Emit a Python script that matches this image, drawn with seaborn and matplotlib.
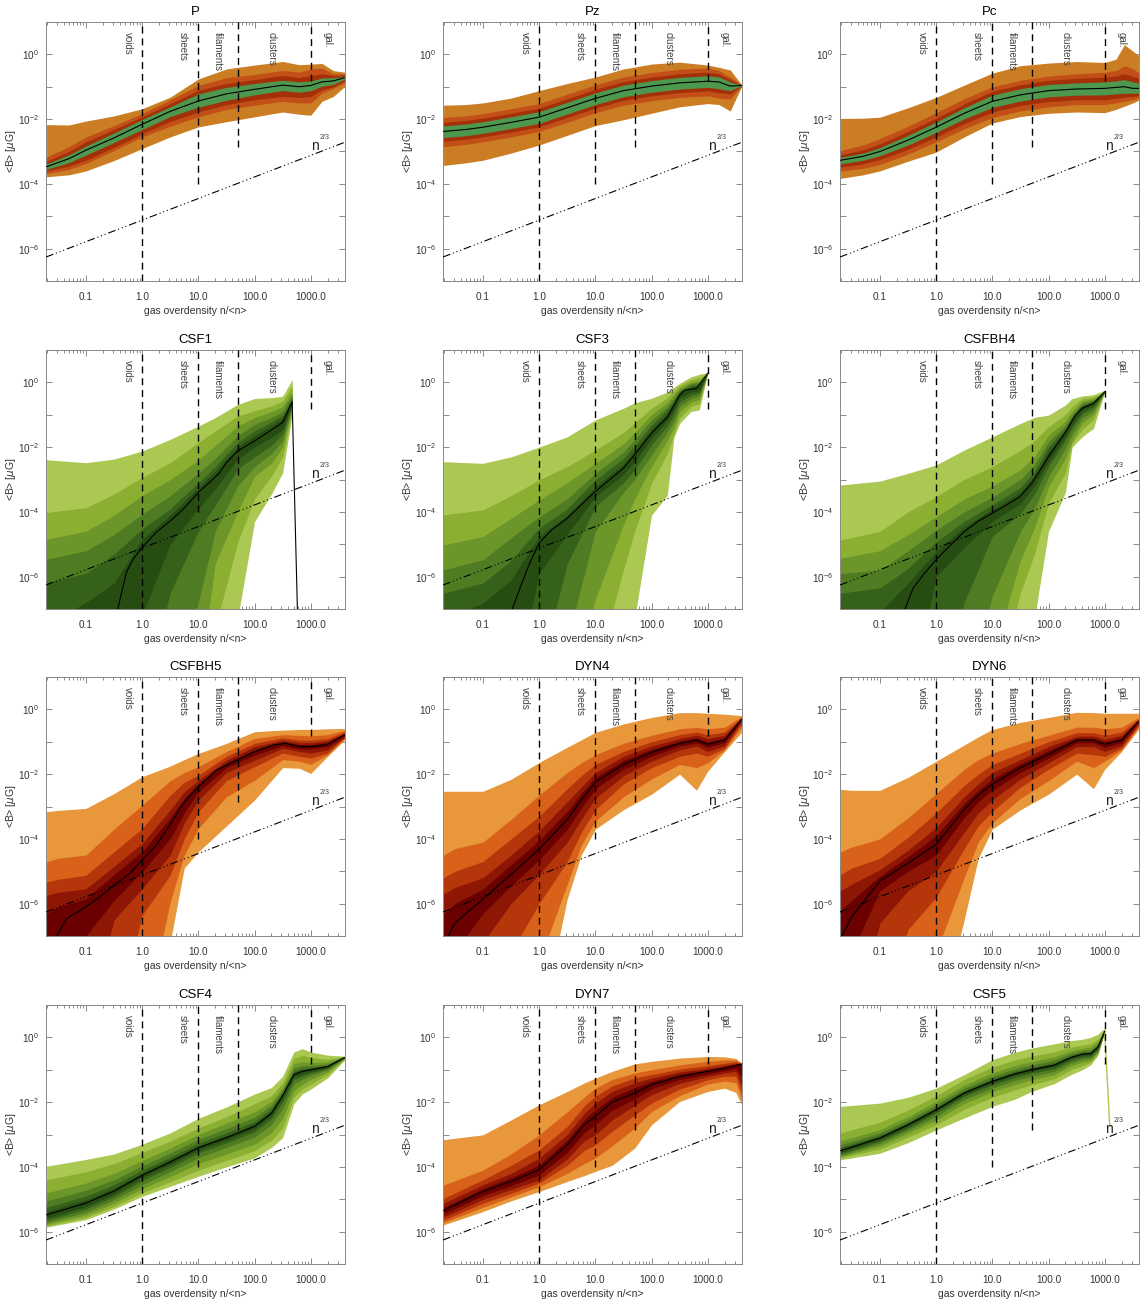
import numpy as np
import matplotlib
matplotlib.use("Agg")
import matplotlib.pyplot as plt
import seaborn as sns
from matplotlib.ticker import FixedLocator, NullLocator, LogLocator, NullFormatter

sns.set_theme(style="ticks")
plt.rcParams["font.family"] = ["Liberation Sans", "DejaVu Sans"]
plt.rcParams["mathtext.fontset"] = "custom"
plt.rcParams["mathtext.rm"] = "Liberation Sans"

# ---------------------------------------------------------------
# data (all values are log10 of overdensity / log10 of <B> in muG)
# bands listed from outermost to innermost
# ---------------------------------------------------------------
P_X = [-1.7, -1.3, -1.0, -0.5, 0.0, 0.5, 1.0, 1.5, 2.0, 2.5, 2.8, 3.0, 3.2, 3.4, 3.6]
P_MED = [-3.47, -3.22, -2.96, -2.58, -2.16, -1.76, -1.44, -1.22, -1.08, -0.95, -1.0, -0.96, -0.85, -0.82, -0.72]
P_HI = [
    [-2.17, -2.18, -2.06, -1.9, -1.68, -1.32, -0.76, -0.45, -0.33, -0.22, -0.32, -0.3, -0.28, -0.5, -0.55],
    [-3.17, -2.85, -2.55, -2.2, -1.83, -1.4, -0.96, -0.72, -0.62, -0.5, -0.55, -0.45, -0.42, -0.6, -0.6],
    [-3.3, -3.0, -2.7, -2.32, -1.93, -1.52, -1.11, -0.9, -0.78, -0.65, -0.72, -0.65, -0.6, -0.66, -0.64],
    [-3.38, -3.1, -2.83, -2.43, -2.01, -1.62, -1.22, -1.02, -0.9, -0.8, -0.85, -0.82, -0.73, -0.72, -0.68],
]
P_LO = [
    [-3.78, -3.72, -3.6, -3.28, -2.91, -2.55, -2.24, -2.08, -1.93, -1.78, -1.85, -1.88, -1.45, -1.3, -1.0],
    [-3.68, -3.55, -3.37, -2.97, -2.55, -2.22, -1.93, -1.7, -1.57, -1.45, -1.5, -1.5, -1.2, -1.05, -0.88],
    [-3.6, -3.45, -3.27, -2.87, -2.45, -2.07, -1.78, -1.55, -1.4, -1.3, -1.33, -1.3, -1.1, -1.0, -0.82],
    [-3.55, -3.34, -3.11, -2.72, -2.32, -1.92, -1.63, -1.42, -1.25, -1.12, -1.17, -1.12, -0.98, -0.93, -0.77],
]

PZ_X = [-1.7, -1.3, -1.0, -0.5, 0.0, 0.5, 1.0, 1.5, 2.0, 2.5, 3.0, 3.2, 3.4, 3.6]
PZ_MED = [-2.38, -2.32, -2.25, -2.1, -1.94, -1.65, -1.36, -1.12, -0.98, -0.88, -0.83, -0.85, -0.98, -0.96]
PZ_HI = [
    [-1.57, -1.55, -1.5, -1.35, -1.12, -0.9, -0.7, -0.45, -0.3, -0.24, -0.33, -0.4, -0.48, -0.93],
    [-1.95, -1.9, -1.83, -1.68, -1.52, -1.23, -0.94, -0.7, -0.56, -0.46, -0.42, -0.5, -0.7, -0.94],
    [-2.1, -2.04, -1.97, -1.82, -1.66, -1.37, -1.08, -0.84, -0.7, -0.6, -0.55, -0.6, -0.78, -0.945],
    [-2.21, -2.15, -2.08, -1.93, -1.77, -1.48, -1.19, -0.95, -0.81, -0.71, -0.66, -0.7, -0.85, -0.95],
]
PZ_LO = [
    [-3.43, -3.35, -3.27, -3.05, -2.8, -2.5, -2.2, -2.02, -1.82, -1.62, -1.52, -1.55, -1.75, -1.0],
    [-2.85, -2.78, -2.7, -2.55, -2.38, -2.1, -1.8, -1.57, -1.43, -1.33, -1.28, -1.35, -1.38, -0.99],
    [-2.68, -2.62, -2.55, -2.4, -2.24, -1.95, -1.66, -1.42, -1.28, -1.18, -1.13, -1.18, -1.22, -0.98],
    [-2.57, -2.51, -2.44, -2.29, -2.13, -1.84, -1.55, -1.31, -1.17, -1.07, -1.02, -1.06, -1.12, -0.97],
]

PC_X = [-1.7, -1.3, -1.0, -0.5, 0.0, 0.5, 1.0, 1.5, 2.0, 2.5, 3.0, 3.2, 3.35, 3.5, 3.6]
PC_MED = [-3.27, -3.15, -3.0, -2.65, -2.25, -1.82, -1.45, -1.25, -1.12, -1.07, -1.05, -1.02, -1.0, -1.05, -1.05]
PC_HI = [
    [-1.98, -1.97, -1.94, -1.65, -1.33, -0.95, -0.58, -0.35, -0.27, -0.22, -0.25, -0.15, 0.3, 0.1, -0.03],
    [-2.97, -2.8, -2.6, -2.22, -1.8, -1.37, -1.0, -0.8, -0.67, -0.6, -0.55, -0.5, -0.35, -0.45, -0.55],
    [-3.1, -2.95, -2.77, -2.38, -1.97, -1.53, -1.14, -0.94, -0.8, -0.74, -0.7, -0.67, -0.6, -0.68, -0.72],
    [-3.18, -3.05, -2.88, -2.5, -2.09, -1.65, -1.26, -1.06, -0.93, -0.88, -0.85, -0.82, -0.78, -0.85, -0.88],
]
PC_LO = [
    [-3.83, -3.72, -3.6, -3.3, -3.02, -2.55, -2.12, -1.92, -1.82, -1.78, -1.8, -1.7, -1.6, -1.5, -1.42],
    [-3.6, -3.52, -3.4, -3.08, -2.7, -2.3, -1.95, -1.75, -1.62, -1.55, -1.55, -1.5, -1.45, -1.4, -1.35],
    [-3.48, -3.38, -3.25, -2.93, -2.55, -2.14, -1.78, -1.58, -1.46, -1.4, -1.4, -1.36, -1.32, -1.3, -1.28],
    [-3.38, -3.27, -3.13, -2.8, -2.41, -1.99, -1.64, -1.44, -1.31, -1.26, -1.25, -1.22, -1.2, -1.2, -1.2],
]

CSF1_X = [-1.7, -1.0, -0.5, 0.0, 0.5, 1.0, 1.3, 1.7, 2.0, 2.3, 2.5, 2.67]
CSF1_MED_X = [-0.46, -0.28, -0.16, 0.0, 0.25, 0.5, 0.73, 1.0, 1.2, 1.38, 1.5, 1.7, 2.0, 2.3, 2.5, 2.67, 2.77]
CSF1_MED = [-7.2, -5.87, -5.46, -5.1, -4.63, -4.28, -3.92, -3.4, -3.09, -2.79, -2.48, -2.12, -1.81, -1.47, -1.24, -0.6, -7.5]
CSF1_HI = [
    [-2.39, -2.48, -2.37, -2.12, -1.76, -1.35, -1.09, -0.68, -0.5, -0.47, -0.43, 0.09],
    [-4.02, -3.87, -3.45, -2.94, -2.48, -1.86, -1.5, -1.04, -0.88, -0.73, -0.58, -0.11],
    [-4.84, -4.6, -4.1, -3.5, -3.0, -2.4, -1.95, -1.35, -1.09, -0.9, -0.75, -0.3],
    [-5.46, -5.2, -4.7, -4.07, -3.5, -2.8, -2.35, -1.65, -1.3, -1.08, -0.9, -0.4],
    [-6.18, -5.9, -5.3, -4.53, -3.9, -3.1, -2.6, -1.85, -1.5, -1.22, -1.02, -0.48],
    [-7.5, -6.8, -6.2, -4.84, -4.1, -3.25, -2.75, -1.98, -1.65, -1.33, -1.12, -0.54],
]
CSF1_LO = [
    [-10, -10, -10, -10, -10, -10, -10, -7.3, -4.3, -3.45, -2.8, -1.0],
    [-10, -10, -10, -10, -10, -10, -7.6, -4.94, -3.6, -2.9, -2.3, -0.9],
    [-10, -10, -10, -10, -10, -9.5, -5.6, -4.0, -2.9, -2.5, -2.0, -0.8],
    [-10, -10, -10, -10, -10, -6.8, -4.6, -3.2, -2.6, -2.2, -1.8, -0.75],
    [-10, -10, -10, -10, -6.5, -4.6, -3.8, -2.68, -2.3, -1.95, -1.6, -0.7],
    [-10, -10, -10, -7.2, -5.0, -3.9, -3.3, -2.37, -2.0, -1.7, -1.45, -0.65],
]

CSF3_X = [-1.7, -1.0, -0.5, 0.0, 0.5, 1.0, 1.5, 1.7, 2.0, 2.28, 2.4, 2.5, 2.7, 2.85, 3.0]
CSF3_MED_X = [-0.52, -0.33, -0.17, 0.0, 0.22, 0.5, 0.78, 1.0, 1.25, 1.5, 1.7, 2.0, 2.29, 2.5, 2.59, 2.8, 3.0]
CSF3_MED = [-7.2, -6.31, -5.59, -4.97, -4.56, -4.2, -3.73, -3.37, -3.01, -2.65, -2.24, -1.57, -1.06, -0.39, -0.24, -0.19, 0.28]
CSF3_HI = [
    [-2.45, -2.5, -2.3, -2.0, -1.68, -1.16, -0.8, -0.63, -0.49, -0.3, -0.15, -0.03, 0.17, 0.25, 0.3],
    [-4.09, -3.94, -3.5, -3.01, -2.6, -2.09, -1.55, -1.25, -0.8, -0.47, -0.26, -0.1, 0.08, 0.15, 0.28],
    [-5.02, -4.76, -4.2, -3.63, -3.1, -2.5, -1.9, -1.55, -1.0, -0.62, -0.38, -0.18, 0.0, 0.05, 0.28],
    [-5.79, -5.48, -4.8, -4.15, -3.6, -2.81, -2.15, -1.77, -1.16, -0.75, -0.48, -0.23, -0.05, 0.0, 0.28],
    [-6.51, -6.2, -5.5, -4.5, -3.9, -3.01, -2.35, -1.95, -1.32, -0.85, -0.55, -0.28, -0.1, -0.05, 0.28],
    [-7.3, -6.82, -6.1, -4.76, -4.1, -3.22, -2.52, -2.1, -1.45, -0.95, -0.62, -0.33, -0.15, -0.1, 0.28],
]
CSF3_LO = [
    [-10, -10, -10, -10, -10, -10, -10, -7.3, -4.1, -3.5, -1.7, -1.27, -0.9, -0.85, 0.28],
    [-10, -10, -10, -10, -10, -9.0, -5.8, -4.6, -3.12, -2.2, -1.6, -1.1, -0.75, -0.65, 0.28],
    [-10, -10, -10, -10, -10, -6.7, -4.4, -3.6, -2.6, -1.8, -1.4, -0.9, -0.62, -0.52, 0.28],
    [-10, -10, -10, -10, -8.0, -4.6, -3.4, -3.0, -2.24, -1.55, -1.2, -0.75, -0.5, -0.42, 0.28],
    [-10, -10, -10, -9.0, -5.6, -3.84, -3.1, -2.7, -1.93, -1.35, -1.0, -0.6, -0.4, -0.32, 0.28],
    [-10, -10, -10, -5.9, -4.7, -3.53, -2.85, -2.45, -1.73, -1.18, -0.85, -0.49, -0.3, -0.25, 0.28],
]

CSFBH4_X = [-1.7, -1.0, -0.5, 0.0, 0.5, 1.0, 1.5, 1.75, 2.0, 2.3, 2.42, 2.6, 2.8, 3.0]
CSFBH4_MED_X = [-0.6, -0.41, -0.21, 0.0, 0.26, 0.5, 0.74, 1.0, 1.25, 1.49, 1.7, 1.85, 2.0, 2.29, 2.48, 2.6, 2.8, 3.0]
CSFBH4_MED = [-7.2, -6.36, -5.9, -5.48, -5.02, -4.61, -4.3, -4.04, -3.79, -3.53, -3.12, -2.71, -2.29, -1.57, -1.01, -0.8, -0.65, -0.29]
CSFBH4_HI = [
    [-3.17, -3.05, -2.81, -2.55, -2.09, -1.68, -1.27, -1.08, -1.01, -0.7, -0.5, -0.42, -0.38, -0.24],
    [-4.87, -4.6, -4.0, -3.53, -3.0, -2.6, -2.1, -1.8, -1.37, -1.0, -0.75, -0.5, -0.45, -0.29],
    [-5.43, -5.2, -4.7, -4.15, -3.6, -3.2, -2.7, -2.3, -1.63, -1.2, -0.9, -0.58, -0.5, -0.29],
    [-5.9, -5.8, -5.2, -4.56, -4.0, -3.55, -3.0, -2.55, -1.83, -1.33, -1.0, -0.65, -0.55, -0.29],
    [-6.51, -6.35, -5.75, -4.92, -4.3, -3.78, -3.25, -2.75, -1.99, -1.42, -1.07, -0.7, -0.58, -0.29],
    [-7.5, -7.1, -6.2, -5.22, -4.47, -3.92, -3.4, -2.88, -2.14, -1.5, -1.13, -0.75, -0.62, -0.29],
]
CSFBH4_LO = [
    [-10, -10, -10, -10, -10, -10, -10, -7.3, -4.6, -3.4, -2.0, -1.68, -1.42, -0.29],
    [-10, -10, -10, -10, -10, -10, -6.5, -5.3, -3.73, -2.8, -1.9, -1.45, -1.15, -0.29],
    [-10, -10, -10, -10, -10, -8.5, -5.5, -4.5, -3.22, -2.35, -1.8, -1.25, -1.0, -0.29],
    [-10, -10, -10, -10, -10, -6.6, -4.6, -3.9, -2.91, -2.05, -1.6, -1.1, -0.88, -0.29],
    [-10, -10, -10, -10, -6.8, -4.75, -4.05, -3.45, -2.6, -1.8, -1.4, -0.97, -0.78, -0.29],
    [-10, -10, -10, -6.0, -5.1, -4.3, -3.75, -3.2, -2.45, -1.68, -1.3, -0.88, -0.7, -0.29],
]

CSFBH5_X = [-1.7, -1.5, -1.0, -0.5, 0.0, 0.5, 0.75, 1.0, 1.5, 2.0, 2.5, 2.8, 3.0, 3.3, 3.6]
CSFBH5_MED_X = [-1.52, -1.34, -1.0, -0.75, -0.46, -0.22, 0.0, 0.25, 0.49, 0.73, 1.0, 1.32, 1.69, 2.0, 2.33, 2.56, 2.8, 3.0, 3.27, 3.6]
CSFBH5_MED = [-7.0, -6.46, -6.1, -5.79, -5.38, -5.07, -4.66, -4.2, -3.58, -2.91, -2.39, -1.88, -1.57, -1.31, -1.1, -1.05, -1.15, -1.15, -1.1, -0.79]
CSFBH5_HI = [
    [-3.16, -3.12, -3.06, -2.6, -2.08, -1.75, -1.55, -1.36, -1.05, -0.69, -0.64, -0.62, -0.62, -0.6, -0.59],
    [-4.71, -4.6, -4.5, -3.7, -2.96, -2.2, -1.95, -1.77, -1.3, -0.9, -0.78, -0.8, -0.82, -0.78, -0.65],
    [-5.33, -5.25, -5.12, -4.4, -3.68, -2.65, -2.25, -2.03, -1.45, -1.05, -0.88, -0.95, -0.95, -0.9, -0.7],
    [-5.74, -5.65, -5.54, -4.85, -4.14, -3.1, -2.55, -2.19, -1.57, -1.15, -0.95, -1.03, -1.03, -0.97, -0.74],
    [-6.3, -6.1, -5.85, -5.1, -4.4, -3.35, -2.75, -2.29, -1.64, -1.24, -1.0, -1.09, -1.09, -1.03, -0.77],
]
CSFBH5_LO = [
    [-10, -10, -10, -10, -10, -7.2, -4.9, -4.4, -3.6, -2.8, -1.8, -1.82, -1.98, -1.45, -0.95],
    [-10, -10, -10, -10, -10, -5.95, -4.5, -3.68, -2.7, -2.19, -1.55, -1.6, -1.7, -1.4, -0.9],
    [-10, -10, -10, -10, -6.36, -5.12, -4.0, -3.16, -2.2, -1.77, -1.35, -1.45, -1.5, -1.35, -0.88],
    [-10, -10, -10, -6.5, -5.54, -4.5, -3.5, -2.8, -1.95, -1.57, -1.2, -1.3, -1.35, -1.25, -0.86],
    [-10, -10, -7.0, -5.9, -5.02, -3.99, -3.2, -2.55, -1.8, -1.41, -1.12, -1.22, -1.22, -1.15, -0.82],
]

DYN4_X = [-1.7, -1.5, -1.0, -0.5, 0.0, 0.5, 0.75, 1.0, 1.5, 2.0, 2.5, 2.8, 3.0, 3.3, 3.6]
DYN4_MED = [-7.3, -6.6, -5.86, -5.1, -4.32, -3.4, -2.8, -2.25, -1.7, -1.33, -1.05, -0.95, -1.08, -0.95, -0.31]
DYN4_HI = [
    [-2.53, -2.53, -2.53, -2.16, -1.64, -1.17, -0.94, -0.71, -0.45, -0.25, -0.1, -0.1, -0.12, -0.15, -0.19],
    [-4.5, -4.3, -4.1, -3.4, -2.65, -1.95, -1.65, -1.4, -1.05, -0.8, -0.6, -0.55, -0.6, -0.55, -0.22],
    [-5.2, -5.0, -4.7, -4.0, -3.3, -2.45, -2.05, -1.7, -1.3, -1.0, -0.78, -0.7, -0.78, -0.7, -0.25],
    [-5.7, -5.5, -5.2, -4.5, -3.75, -2.85, -2.4, -1.95, -1.45, -1.13, -0.9, -0.8, -0.9, -0.8, -0.27],
    [-6.3, -6.0, -5.55, -4.8, -4.05, -3.15, -2.6, -2.1, -1.58, -1.23, -0.98, -0.88, -1.0, -0.88, -0.29],
]
DYN4_LO = [
    [-10, -10, -10, -10, -10, -5.86, -4.5, -3.7, -3.1, -2.62, -2.0, -2.5, -1.91, -1.3, -0.71],
    [-10, -10, -10, -10, -7.8, -5.4, -4.2, -3.45, -2.7, -2.15, -1.7, -1.8, -1.65, -1.25, -0.55],
    [-10, -10, -10, -7.5, -6.0, -4.7, -3.8, -3.1, -2.3, -1.8, -1.45, -1.35, -1.45, -1.2, -0.45],
    [-10, -10, -7.2, -6.0, -5.1, -4.1, -3.4, -2.75, -2.05, -1.6, -1.25, -1.13, -1.3, -1.12, -0.38],
    [-10, -7.5, -6.3, -5.45, -4.65, -3.7, -3.05, -2.45, -1.85, -1.45, -1.13, -1.03, -1.17, -1.03, -0.34],
]

DYN6_X = [-1.7, -1.5, -1.0, -0.5, 0.0, 0.5, 0.75, 1.0, 1.5, 2.0, 2.5, 2.8, 3.0, 3.3, 3.6]
DYN6_MED = [-7.1, -6.4, -5.3, -4.75, -4.17, -3.09, -2.65, -2.31, -1.8, -1.39, -0.95, -0.95, -1.08, -0.95, -0.37]
DYN6_HI = [
    [-2.47, -2.5, -2.5, -2.1, -1.6, -1.1, -0.85, -0.62, -0.4, -0.25, -0.09, -0.1, -0.12, -0.12, -0.12],
    [-4.4, -4.25, -4.0, -3.35, -2.6, -1.85, -1.55, -1.35, -1.05, -0.8, -0.55, -0.55, -0.6, -0.55, -0.25],
    [-5.1, -4.9, -4.6, -3.95, -3.2, -2.35, -2.0, -1.7, -1.35, -1.0, -0.72, -0.72, -0.8, -0.7, -0.3],
    [-5.6, -5.4, -4.95, -4.35, -3.65, -2.7, -2.3, -1.95, -1.55, -1.15, -0.83, -0.82, -0.92, -0.8, -0.33],
    [-6.2, -5.9, -5.15, -4.55, -3.9, -2.9, -2.5, -2.15, -1.68, -1.27, -0.89, -0.89, -1.0, -0.88, -0.35],
]
DYN6_LO = [
    [-10, -10, -10, -10, -10, -6.5, -4.6, -3.7, -3.1, -2.62, -2.0, -2.45, -1.85, -1.3, -0.62],
    [-10, -10, -10, -10, -7.5, -5.2, -4.1, -3.5, -2.75, -2.2, -1.6, -1.8, -1.6, -1.25, -0.55],
    [-10, -10, -10, -6.8, -5.8, -4.3, -3.6, -3.15, -2.4, -1.85, -1.35, -1.4, -1.45, -1.2, -0.5],
    [-10, -10, -6.6, -5.6, -5.0, -3.8, -3.2, -2.8, -2.15, -1.65, -1.15, -1.15, -1.3, -1.12, -0.45],
    [-10, -7.5, -5.6, -5.0, -4.5, -3.35, -2.85, -2.5, -1.95, -1.5, -1.03, -1.03, -1.17, -1.03, -0.4],
]

CSF4_X = [-1.7, -1.0, -0.5, 0.0, 0.5, 1.0, 1.5, 2.0, 2.3, 2.5, 2.7, 2.85, 3.0, 3.3, 3.6]
CSF4_MED = [-5.48, -5.12, -4.75, -4.26, -3.85, -3.41, -3.1, -2.75, -2.35, -1.8, -1.15, -1.05, -1.0, -0.9, -0.62]
CSF4_HI = [
    [-3.98, -3.77, -3.6, -3.3, -2.95, -2.5, -2.15, -1.75, -1.55, -1.2, -0.45, -0.35, -0.45, -0.55, -0.58],
    [-4.4, -4.15, -3.9, -3.55, -3.2, -2.8, -2.45, -2.05, -1.8, -1.4, -0.65, -0.55, -0.62, -0.68, -0.59],
    [-4.8, -4.5, -4.2, -3.8, -3.42, -3.0, -2.65, -2.3, -1.98, -1.55, -0.82, -0.75, -0.78, -0.76, -0.6],
    [-5.05, -4.72, -4.4, -3.97, -3.57, -3.15, -2.82, -2.47, -2.1, -1.63, -0.95, -0.88, -0.87, -0.82, -0.61],
    [-5.25, -4.9, -4.55, -4.1, -3.7, -3.27, -2.95, -2.6, -2.2, -1.7, -1.05, -0.96, -0.93, -0.86, -0.615],
    [-5.38, -5.02, -4.66, -4.19, -3.78, -3.35, -3.03, -2.68, -2.28, -1.76, -1.1, -1.0, -0.97, -0.88, -0.618],
]
CSF4_LO = [
    [-5.86, -5.63, -5.3, -4.91, -4.6, -4.29, -4.0, -3.72, -3.4, -3.1, -2.05, -1.75, -1.6, -1.25, -0.7],
    [-5.82, -5.56, -5.22, -4.8, -4.46, -4.1, -3.8, -3.5, -3.18, -2.8, -1.85, -1.6, -1.45, -1.15, -0.68],
    [-5.77, -5.48, -5.12, -4.67, -4.3, -3.9, -3.6, -3.3, -2.95, -2.5, -1.65, -1.45, -1.3, -1.07, -0.66],
    [-5.72, -5.4, -5.02, -4.55, -4.15, -3.72, -3.4, -3.08, -2.7, -2.2, -1.45, -1.3, -1.18, -1.0, -0.64],
    [-5.65, -5.3, -4.92, -4.42, -4.02, -3.57, -3.26, -2.92, -2.52, -2.0, -1.3, -1.2, -1.1, -0.96, -0.63],
    [-5.58, -5.22, -4.84, -4.33, -3.92, -3.48, -3.17, -2.82, -2.42, -1.88, -1.22, -1.12, -1.05, -0.93, -0.625],
]

DYN7_X = [-1.7, -1.0, -0.5, 0.0, 0.5, 0.8, 1.0, 1.3, 1.7, 2.0, 2.5, 3.0, 3.3, 3.5, 3.6]
DYN7_MED = [-5.35, -4.76, -4.45, -4.09, -3.32, -2.7, -2.44, -2.0, -1.72, -1.46, -1.21, -1.05, -0.95, -0.87, -0.82]
DYN7_HI = [
    [-3.16, -3.01, -2.55, -2.08, -1.67, -1.41, -1.26, -1.05, -0.82, -0.74, -0.64, -0.59, -0.6, -0.65, -0.79],
    [-4.56, -4.1, -3.6, -3.01, -2.3, -1.85, -1.57, -1.3, -1.1, -1.0, -0.85, -0.74, -0.7, -0.7, -0.8],
    [-4.97, -4.4, -3.95, -3.47, -2.75, -2.12, -1.82, -1.5, -1.25, -1.15, -0.98, -0.87, -0.8, -0.75, -0.81],
    [-5.12, -4.55, -4.2, -3.73, -3.0, -2.35, -2.03, -1.67, -1.4, -1.26, -1.07, -0.95, -0.86, -0.8, -0.81],
    [-5.25, -4.67, -4.33, -3.94, -3.17, -2.55, -2.24, -1.85, -1.55, -1.36, -1.14, -1.0, -0.9, -0.83, -0.81],
]
DYN7_LO = [
    [-5.79, -5.38, -5.05, -4.76, -4.45, -4.27, -4.14, -3.95, -3.42, -2.7, -1.98, -1.67, -1.57, -1.7, -2.08],
    [-5.72, -5.25, -4.93, -4.61, -4.2, -3.9, -3.73, -3.35, -2.8, -2.29, -1.8, -1.44, -1.35, -1.4, -1.9],
    [-5.65, -5.12, -4.82, -4.5, -3.95, -3.5, -3.32, -2.9, -2.4, -2.03, -1.6, -1.31, -1.2, -1.2, -1.7],
    [-5.55, -5.0, -4.7, -4.4, -3.75, -3.2, -3.01, -2.55, -2.1, -1.77, -1.42, -1.21, -1.1, -1.05, -1.5],
    [-5.45, -4.88, -4.58, -4.25, -3.55, -2.95, -2.7, -2.25, -1.9, -1.59, -1.3, -1.13, -1.03, -0.95, -1.2],
]

CSF5_X = [-1.7, -1.0, -0.5, 0.0, 0.5, 1.0, 1.4, 1.7, 2.1, 2.4, 2.6, 2.75, 2.88, 3.0]
CSF5_MED = [-3.5, -3.11, -2.7, -2.24, -1.72, -1.36, -1.13, -1.0, -0.86, -0.62, -0.52, -0.5, -0.3, 0.19]
CSF5_HI = [
    [-2.13, -2.03, -1.85, -1.57, -1.15, -0.69, -0.46, -0.33, -0.2, -0.1, -0.06, 0.0, 0.1, 0.29],
    [-2.95, -2.62, -2.25, -1.8, -1.3, -0.92, -0.7, -0.58, -0.45, -0.3, -0.24, -0.2, -0.05, 0.25],
    [-3.2, -2.85, -2.45, -1.98, -1.47, -1.1, -0.87, -0.75, -0.6, -0.42, -0.34, -0.3, -0.14, 0.22],
    [-3.32, -2.95, -2.55, -2.08, -1.57, -1.2, -0.97, -0.85, -0.7, -0.5, -0.41, -0.38, -0.2, 0.21],
    [-3.4, -3.02, -2.62, -2.15, -1.64, -1.28, -1.05, -0.92, -0.78, -0.56, -0.46, -0.44, -0.25, 0.2],
    [-3.45, -3.07, -2.66, -2.2, -1.68, -1.32, -1.09, -0.96, -0.82, -0.59, -0.49, -0.47, -0.28, 0.195],
]
CSF5_LO = [
    [-3.78, -3.58, -3.25, -2.86, -2.49, -2.13, -1.91, -1.67, -1.43, -1.15, -1.0, -0.85, -0.55, 0.19],
    [-3.72, -3.45, -3.08, -2.7, -2.22, -1.85, -1.62, -1.46, -1.28, -1.0, -0.87, -0.77, -0.5, 0.18],
    [-3.68, -3.35, -2.96, -2.55, -2.04, -1.68, -1.45, -1.31, -1.15, -0.88, -0.76, -0.71, -0.46, 0.18],
    [-3.64, -3.27, -2.87, -2.44, -1.92, -1.57, -1.33, -1.2, -1.05, -0.79, -0.68, -0.65, -0.42, 0.18],
    [-3.6, -3.21, -2.8, -2.34, -1.82, -1.47, -1.24, -1.11, -0.97, -0.71, -0.61, -0.59, -0.37, 0.18],
    [-3.55, -3.16, -2.75, -2.29, -1.77, -1.41, -1.18, -1.05, -0.91, -0.66, -0.56, -0.54, -0.33, 0.185],
]
CSF5_TAIL_X = [3.0, 3.09]
CSF5_TAIL_Y = [0.19, -2.75]

# environment boundaries and labels
BOUND_X = [1, 10, 50, 1000]
BOUND_YMIN = [1e-7, 1e-4, 10 ** -2.87, 10 ** -0.82]
REGION_NAMES = ["voids", "sheets", "filaments", "clusters", "gal."]
REGION_X = [0.55, 5.3, 22, 205, 2000]
SLOPE_AMP = 7.6e-6      # amplitude of the n^(2/3) guide line

# colours
PHYS_COLS = ["#CB7D23", "#C24F17", "#A33008", "#4E974E"]
ORANGE_COLS = ["#E8973A", "#D9621B", "#B5360B", "#8E1604", "#6A0000"]
GREEN_COLS = ["#ABC853", "#8BAF31", "#6C962A", "#4F7C22", "#36611A", "#264C12"]

panels = [
    ("P", P_X, P_X, P_MED, P_HI, P_LO, PHYS_COLS),
    ("Pz", PZ_X, PZ_X, PZ_MED, PZ_HI, PZ_LO, PHYS_COLS),
    ("Pc", PC_X, PC_X, PC_MED, PC_HI, PC_LO, PHYS_COLS),
    ("CSF1", CSF1_X, CSF1_MED_X, CSF1_MED, CSF1_HI, CSF1_LO, GREEN_COLS),
    ("CSF3", CSF3_X, CSF3_MED_X, CSF3_MED, CSF3_HI, CSF3_LO, GREEN_COLS),
    ("CSFBH4", CSFBH4_X, CSFBH4_MED_X, CSFBH4_MED, CSFBH4_HI, CSFBH4_LO, GREEN_COLS),
    ("CSFBH5", CSFBH5_X, CSFBH5_MED_X, CSFBH5_MED, CSFBH5_HI, CSFBH5_LO, ORANGE_COLS),
    ("DYN4", DYN4_X, DYN4_X, DYN4_MED, DYN4_HI, DYN4_LO, ORANGE_COLS),
    ("DYN6", DYN6_X, DYN6_X, DYN6_MED, DYN6_HI, DYN6_LO, ORANGE_COLS),
    ("CSF4", CSF4_X, CSF4_X, CSF4_MED, CSF4_HI, CSF4_LO, GREEN_COLS),
    ("DYN7", DYN7_X, DYN7_X, DYN7_MED, DYN7_HI, DYN7_LO, ORANGE_COLS),
    ("CSF5", CSF5_X, CSF5_X, CSF5_MED, CSF5_HI, CSF5_LO, GREEN_COLS),
]

# -------------------------
# figure
# -------------------------
W, H = 1140, 1303
fig = plt.figure(figsize=(W / 100, H / 100), dpi=100)
col_left = [46, 443, 840]
row_bottom = [281, 609, 936, 1264]
ax_w, ax_h = 299, 259

tick_col = "#333333"
x_guide = np.logspace(-1.71, 3.61, 50)

for i, (name, gx, mx, med, his, los, cols) in enumerate(panels):
    r, c = divmod(i, 3)
    ax = fig.add_axes([col_left[c] / W, 1 - row_bottom[r] / H, ax_w / W, ax_h / H])
    x = 10 ** np.array(gx)

    for k, col in enumerate(cols):
        ax.fill_between(x, 10 ** np.array(los[k]), 10 ** np.array(his[k]),
                        color=col, lw=0, zorder=1)

    sns.lineplot(x=10 ** np.array(mx), y=10 ** np.array(med), color="black", lw=0.8,
                 ax=ax, sort=False, estimator=None, zorder=3)

    if name == "CSF5":
        sns.lineplot(x=10 ** np.array(CSF5_TAIL_X), y=10 ** np.array(CSF5_TAIL_Y),
                     color=GREEN_COLS[0], lw=1.0, ax=ax, sort=False, estimator=None, zorder=2)

    # n^(2/3) reference
    ax.plot(x_guide, SLOPE_AMP * x_guide ** (2 / 3), color="black", lw=0.8,
            ls=(0, (7, 2.5, 1, 2.5, 1, 2.5, 1, 2.5)), zorder=4)
    ax.text(10 ** 3.07, 10 ** -2.84, "n", fontsize=10, ha="center", va="center",
            color="#222222", zorder=5)
    ax.text(10 ** 3.24, 10 ** -2.58, "2/3", fontsize=5, ha="center", va="center",
            color="#444444", zorder=5)

    # environment boundaries
    for bx, by in zip(BOUND_X, BOUND_YMIN):
        ax.plot([bx, bx], [by, 10], color="black", lw=1.0, ls=(0, (5, 3.5)), zorder=4)
    for nm, rx in zip(REGION_NAMES, REGION_X):
        ax.text(rx, 10 ** 0.7, nm, rotation=270, ha="center", va="top",
                fontsize=7, color="#444444", zorder=5)

    ax.set_xscale("log")
    ax.set_yscale("log")
    ax.set_xlim(10 ** -1.71, 10 ** 3.61)
    ax.set_ylim(1e-7, 10)

    ax.xaxis.set_major_locator(FixedLocator([0.1, 1, 10, 100, 1000]))
    ax.set_xticklabels(["0.1", "1.0", "10.0", "100.0", "1000.0"])
    ax.xaxis.set_minor_locator(LogLocator(base=10, subs=np.arange(2, 10), numticks=20))
    ax.xaxis.set_minor_formatter(NullFormatter())
    yt = [10.0 ** k for k in range(-7, 2)]
    ax.yaxis.set_major_locator(FixedLocator(yt))
    ax.set_yticklabels(["" if k % 2 else r"$10^{%d}$" % k for k in range(-7, 2)])
    ax.yaxis.set_minor_locator(NullLocator())

    ax.tick_params(which="both", direction="in", top=True, right=True,
                   colors="#777777", labelcolor=tick_col, labelsize=7.2, width=0.6)
    ax.tick_params(which="major", length=4.5)
    ax.tick_params(axis="x", which="major", pad=8)
    ax.tick_params(axis="y", which="major", pad=5)
    ax.tick_params(which="minor", length=2.5)
    for sp in ax.spines.values():
        sp.set_color("#888888")
        sp.set_linewidth(0.7)

    ax.set_title(name, fontsize=9.5, pad=5, color="black")
    ax.set_xlabel("gas overdensity n/<n>", fontsize=7.5, color=tick_col)
    ax.set_ylabel(r"<B> [$\mu$G]", fontsize=7.5, color=tick_col)
    ax.xaxis.set_label_coords(0.5, -0.095)
    ax.yaxis.set_label_coords(-0.095, 0.5)

fig.savefig("out.png", dpi=100)
